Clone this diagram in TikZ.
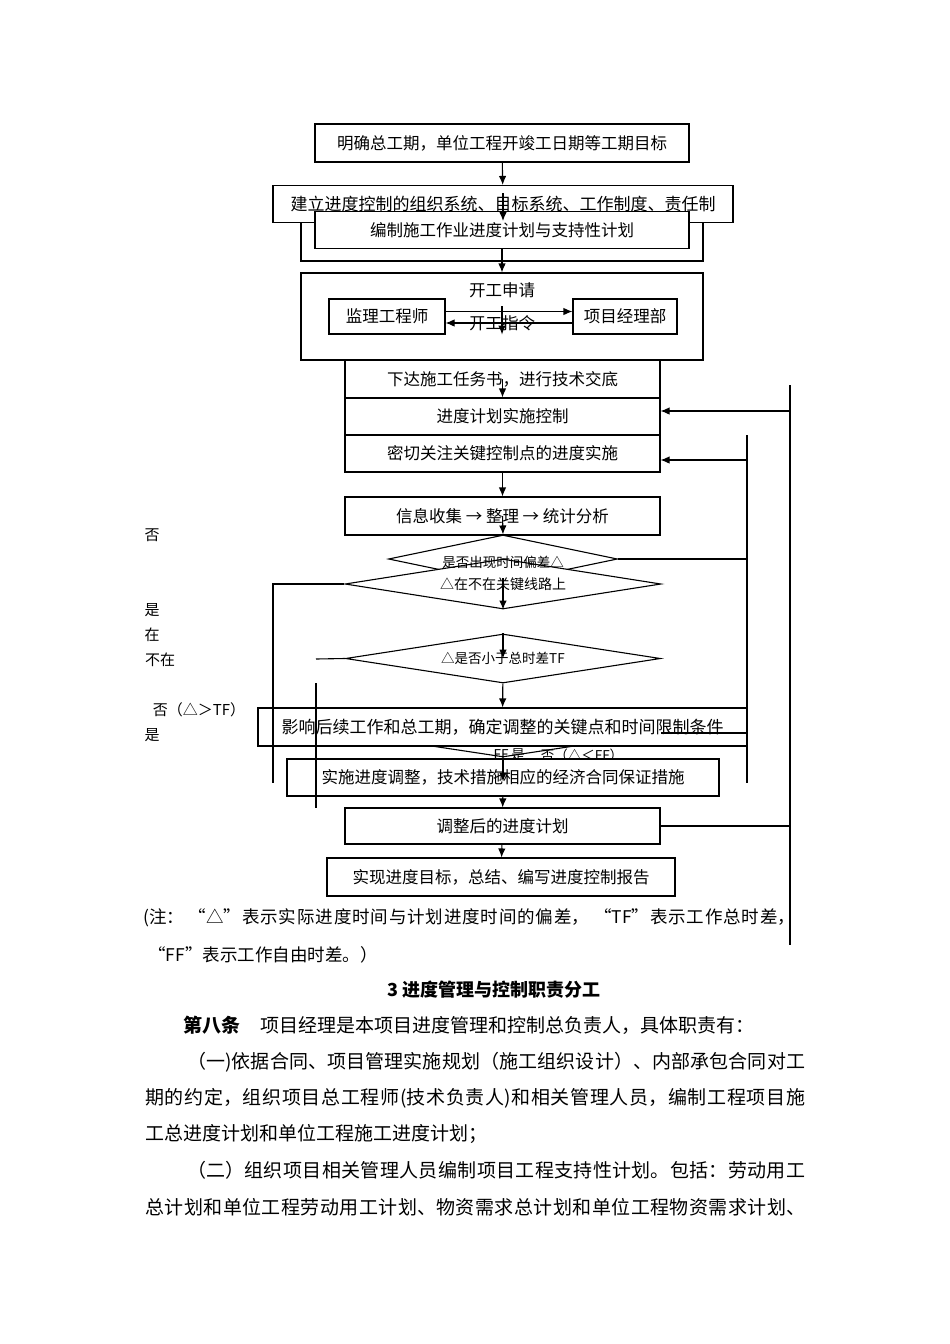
\documentclass[tikz,border=0pt]{standalone}
\usepackage{fontspec}
\setmainfont{Noto Sans CJK SC}
\usetikzlibrary{shapes.geometric, arrows.meta, positioning}
\XeTeXlinebreaklocale "zh"
\XeTeXlinebreakskip=0pt plus 2pt
\newcommand{\jline}[2]{\parbox{#1}{\parfillskip=0pt\noindent #2\par}}

\tikzset{
  box/.style={draw, line width=1.1pt, fill=white, inner sep=0pt, font=\fontsize{16.5}{18}\selectfont},
  dia/.style={draw, diamond, aspect=6.5, line width=1.1pt, inner sep=0pt, font=\fontsize{13.5}{15}\selectfont},
  arr/.style={line width=1.1pt, -{Latex[length=9pt,width=7.5pt]}},
  ln/.style={line width=1.1pt},
  side/.style={inner sep=0pt, font=\fontsize{15}{17}\selectfont},
  body/.style={anchor=west, inner sep=0pt, font=\fontsize{19}{21}\selectfont},
}

\begin{document}
\begin{tikzpicture}[x=1pt, y=-1pt]
    \useasboundingbox (0,0) rectangle (950,1344);
    % 工期目标与组织
    \node[box, minimum width=374, minimum height=38] (goal) at (502,143) {明确总工期，单位工程开竣工日期等工期目标};
    \node[box, minimum width=402, minimum height=61] (frame) at (502,230.5) {};
    \node[box, minimum width=460, minimum height=37, font=\fontsize{17}{19}\selectfont] (org) at (503,204) {建立进度控制的组织系统、目标系统、工作制度、责任制};
    \node[box, minimum width=374, minimum height=37] (plan) at (502,230) {编制施工作业进度计划与支持性计划};
    % 开工申请
    \node[box, minimum width=402, minimum height=87] (start) at (502,316.5) {};
    \node[font=\fontsize{16.5}{18}\selectfont] (apply) at (502,290) {开工申请};
    \node[box, minimum width=116, minimum height=35] (sup) at (387,316.5) {监理工程师};
    \node[box, minimum width=104, minimum height=35] (pm) at (625,316.5) {项目经理部};
    \node[font=\fontsize{16.5}{18}\selectfont] (order) at (502,323) {开工指令};
    % 实施与检查
    \node[box, minimum width=315, minimum height=38] (task) at (502.5,379) {下达施工任务书，进行技术交底};
    \node[box, minimum width=315, minimum height=37] (ctrl) at (502.5,416.5) {进度计划实施控制};
    \node[box, minimum width=315, minimum height=37] (key) at (502.5,453.5) {密切关注关键控制点的进度实施};
    \node[box, minimum width=315, minimum height=38] (info) at (502.5,516) {信息收集 → 整理 → 统计分析};
    % 判断
    \node[dia, minimum width=229, minimum height=48] (dev) at (503,559) {};
    \node[dia, fill=white, minimum width=316, minimum height=50, font=\fontsize{14}{16}\selectfont] (crit) at (503,584) {△在不在关键线路上};
    \node[font=\fontsize{13.5}{15}\selectfont, inner sep=0pt] (devtxt) at (503,562) {是否出现时间偏差△};
    \node[dia, fill=white, minimum width=315, minimum height=49] (tf) at (503,658.5) {△是否小于总时差TF};
    \node[dia, minimum width=315, minimum height=48] (ff) at (503,733) {};
    \node[font=\fontsize{13.5}{15}\selectfont, inner sep=0pt] (fftxt) at (501,755) {FF};
    \node[font=\fontsize{13.5}{15}\selectfont, inner sep=0pt] (ffyes) at (518,755) {是};
    \node[font=\fontsize{13.5}{15}\selectfont, inner sep=0pt] (ffno) at (582,755) {否（△＜FF）};
    % 调整
    \node[box, minimum width=489, minimum height=38, font=\fontsize{17}{19}\selectfont] (impact) at (502.5,727) {影响后续工作和总工期，确定调整的关键点和时间限制条件};
    \node[box, minimum width=432, minimum height=37] (adjust) at (503,777.5) {实施进度调整，技术措施相应的经济合同保证措施};
    \node[box, minimum width=315, minimum height=36] (newplan) at (502.5,826) {调整后的进度计划};
    \node[box, minimum width=348, minimum height=38] (done) at (501,877) {实现进度目标，总结、编写进度控制报告};
    % 左侧标注
    \node[side] (no1) at (152,535) {否};
    \node[side] (yes1) at (152,610) {是};
    \node[side] (zai) at (152,635) {在};
    \node[side] (buzai) at (160,660) {不在};
    \node[side] (nogt) at (199,710) {否（△＞TF）};
    \node[side] (yes2) at (152,735) {是};
    % 连线用点
    \coordinate (r1top) at (790,385);
    \coordinate (r1bot) at (790,945);
    \coordinate (r2top) at (747,435);
    \coordinate (r2bot) at (747,783);
    \coordinate (l1bot) at (273,783);
    \coordinate (l2a) at (316,659);
    \coordinate (l2top) at (316,683);
    \coordinate (l2bot) at (316,808);
    \coordinate (a1) at (503,193);
    \coordinate (a2) at (503,221);
    \coordinate (a3) at (502,306);
    \coordinate (fb1) at (790,411);
    \coordinate (fb2) at (747,460);
    % 箭头
    \draw[arr] (goal) -- (org);
    \draw[arr] (a1) -- (a2);
    \draw[arr] (plan.south) -- (start.north);
    \draw[arr] (a3) -- (a3 |- sup.south);
    \draw[arr] ([yshift=5]sup.east) -- ([yshift=5]pm.west);
    \draw[arr] ([yshift=-6.5]pm.west) -- ([yshift=-6.5]sup.east);
    \draw[arr] (task.center) -- (ctrl.north);
    \draw[arr] (key) -- (info);
    \draw[arr] (info.center) -- (dev.north);
    \draw[arr] ([yshift=6]crit.center) -- (crit.south);
    \draw[arr] (tf.north) -- (tf.center);
    \draw[arr] (tf) -- (impact);
    \draw[arr] (ff.south) -- ([yshift=-4]adjust.center);
    \draw[arr] (adjust) -- (newplan);
    \draw[arr] (newplan) -- (done);
    % 回路
    \draw[ln] (r1top) -- (r1bot);
    \draw[arr] (fb1) -- (fb1 -| ctrl.east);
    \draw[ln] (r2top) -- (r2bot);
    \draw[arr] (fb2) -- (fb2 -| key.east);
    \draw[ln] (dev.east) -- (dev.east -| r2top);
    \draw[ln] (ff.east) -- (ff.east -| r2top);
    \draw[ln] (newplan.east) -- (newplan.east -| r1top);
    \draw[ln] (crit.west) -| (l1bot);
    \draw[ln] (l2a) -- (tf.west);
    \draw[ln] (l2top) -- (l2bot);
    % 注与正文
    \node[body, font=\fontsize{17.5}{19}\selectfont] (note1) at (143,918) {\jline{652pt}{(注：~“△”表示实际进度时间与计划进度时间的偏差，~“TF”表示工作总时差，}};
    \node[body, font=\fontsize{17.5}{19}\selectfont] (note2) at (148,955) {“FF”表示工作自由时差。）};
    \node[font=\bfseries\fontsize{18}{20}\selectfont] (title) at (494,990) {3 进度管理与控制职责分工};
    \node[body, font=\bfseries\fontsize{19}{21}\selectfont] (art) at (183,1025) {第八条};
    \node[body] (duty) at (260,1025) {项目经理是本项目进度管理和控制总负责人，具体职责有：};
    \node[body] (p1a) at (187,1062) {\jline{618pt}{（一)依据合同、项目管理实施规划（施工组织设计）、内部承包合同对工}};
    \node[body] (p1b) at (145,1098) {\jline{660pt}{期的约定，组织项目总工程师(技术负责人)和相关管理人员，编制工程项目施}};
    \node[body] (p1c) at (145,1134) {工总进度计划和单位工程施工进度计划；};
    \node[body] (p2a) at (187,1170) {\jline{618pt}{（二）组织项目相关管理人员编制项目工程支持性计划。包括：劳动用工}};
    \node[body] (p2b) at (145,1207) {\jline{660pt}{总计划和单位工程劳动用工计划、物资需求总计划和单位工程物资需求计划、}};
\end{tikzpicture}
\end{document}
